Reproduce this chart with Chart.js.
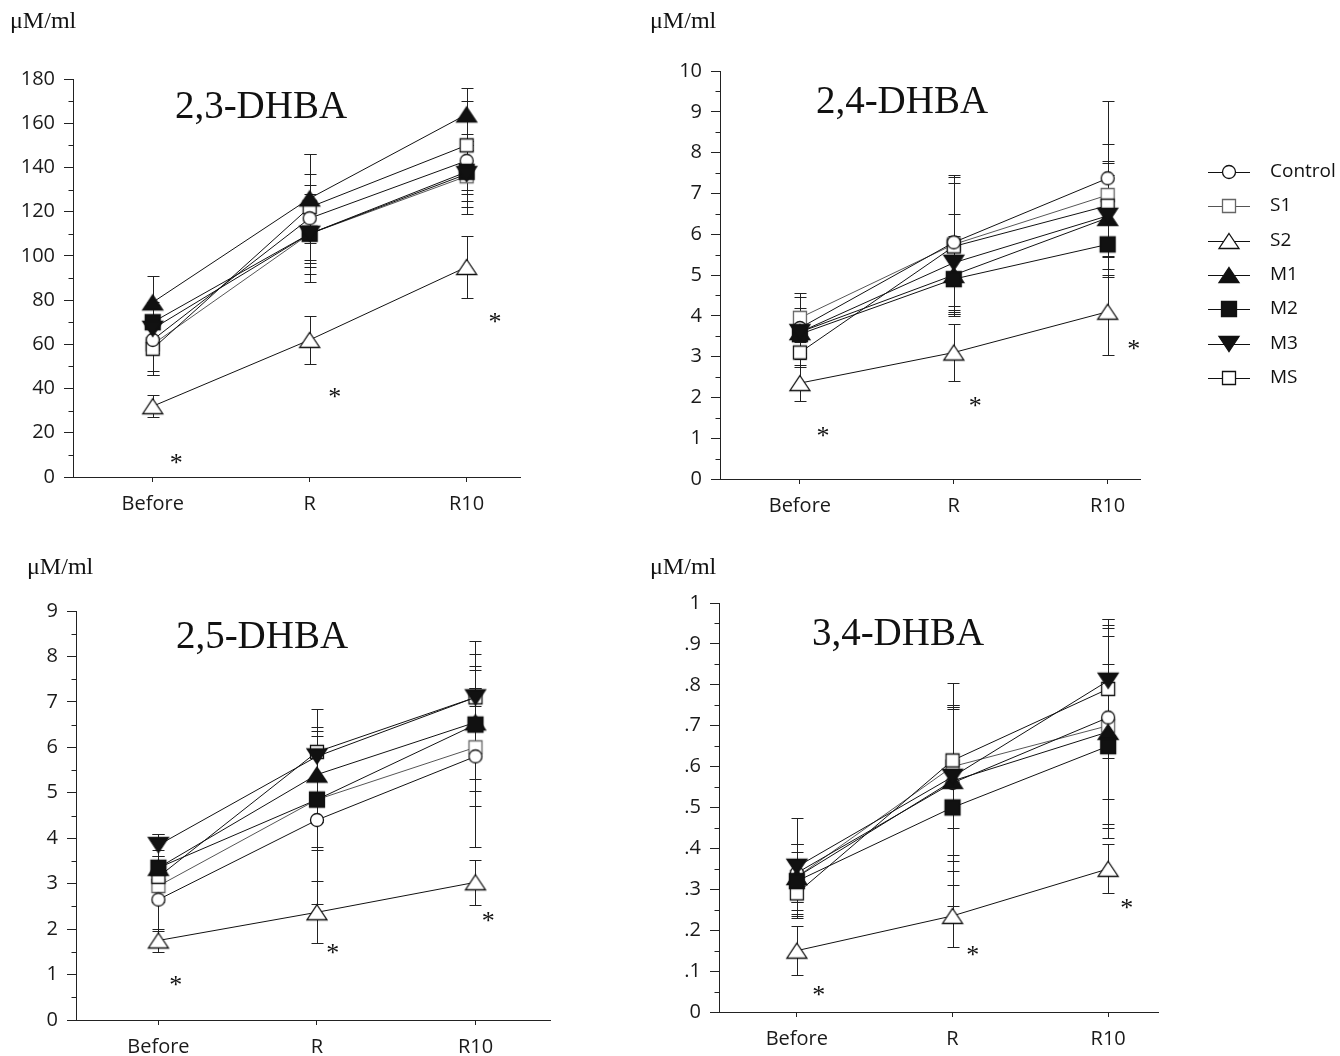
<!DOCTYPE html>
<html>
<head>
<meta charset="utf-8">
<script src="https://cdn.jsdelivr.net/npm/chart.js@4.4.1/dist/chart.umd.min.js"></script>
<style>
  body { margin: 0; background: #fff; }
  #wrap { position: relative; width: 1340px; height: 1056px; overflow: hidden; background: #fff; }
  canvas { position: absolute; }
</style>
</head>
<body>
<div id="wrap"></div>
<script>
const categories = ['Before', 'R', 'R10'];
const seriesNames = ['Control', 'S1', 'S2', 'M1', 'M2', 'M3', 'MS'];

// 2,3-DHBA  (rows follow seriesNames)
const means23 = [[62, 117, 143], [60, 110, 136], [32, 62, 95], [79, 126, 164], [70, 110, 138], [67, 110, 137], [58, 122, 150]];
const sd23 = [[16, 20, 18], [12, 18, 14], [5, 11, 14], [12, 20, 12], [9, 15, 10], [11, 22, 18], [12, 24, 20]];
const starX23 = [0.15, 1.16, 2.18];
const starY23 = [9, 39, 73];

// 2,4-DHBA
const means24 = [[3.7, 5.8, 7.37], [3.95, 5.75, 6.96], [2.35, 3.1, 4.1], [3.6, 5.0, 6.4], [3.55, 4.9, 5.75], [3.6, 5.3, 6.45], [3.1, 5.7, 6.7]];
const sd24 = [[0.75, 1.65, 1.9], [0.6, 1.5, 1.25], [0.45, 0.7, 1.05], [0.5, 0.95, 1.4], [0.55, 0.85, 0.8], [0.6, 1.2, 1.0], [0.35, 1.7, 1.05]];
const starX24 = [0.15, 1.14, 2.17];
const starY24 = [1.2, 1.94, 3.33];

// 2,5-DHBA
const means25 = [[2.65, 4.4, 5.8], [2.95, 4.85, 6.0], [1.75, 2.37, 3.03], [3.35, 5.4, 6.55], [3.35, 4.85, 6.5], [3.85, 5.8, 7.1], [3.15, 5.9, 7.1]];
const sd25 = [[0.7, 1.85, 2.0], [0.3, 1.1, 1.3], [0.25, 0.68, 0.5], [0.75, 1.05, 1.5], [0.4, 1.05, 1.2], [0.25, 0.55, 1.25], [0.45, 0.95, 0.2]];
const starX25 = [0.11, 1.10, 2.08];
const starY25 = [0.9, 1.6, 2.3];

// 3,4-DHBA
const means34 = [[0.34, 0.56, 0.72], [0.33, 0.60, 0.70], [0.15, 0.235, 0.35], [0.33, 0.565, 0.685], [0.32, 0.50, 0.65], [0.355, 0.575, 0.81], [0.29, 0.615, 0.79]];
const sd34 = [[0.07, 0.19, 0.2], [0.06, 0.15, 0.24], [0.06, 0.075, 0.06], [0.08, 0.18, 0.26], [0.09, 0.24, 0.2], [0.12, 0.23, 0.15], [0.05, 0.13, 0.17]];
const starX34 = [0.14, 1.13, 2.12];
const starY34 = [0.057, 0.155, 0.27];
const ticks34 = ['0', '.1', '.2', '.3', '.4', '.5', '.6', '.7', '.8', '.9', '1'];

const unitLabel = 'μM/ml';

// marker look for each series
const markerDefs = [
  { shape: 'circle', fill: '#fff', stroke: '#111' },
  { shape: 'square', fill: '#fff', stroke: '#666' },
  { shape: 'up', fill: '#fff', stroke: '#111' },
  { shape: 'up', fill: '#111', stroke: '#111' },
  { shape: 'bigsquare', fill: '#111', stroke: '#111' },
  { shape: 'down', fill: '#111', stroke: '#111' },
  { shape: 'square', fill: '#fff', stroke: '#111' }
];
const lineColors = ['#111', '#555', '#111', '#111', '#111', '#111', '#111'];
// lower number = drawn on top (filled markers sit above the open ones)
const drawOrder = [4, 6, 3, 2, 1, 0, 5];

function makeMarker(def) {
  const c = document.createElement('canvas');
  c.width = 24; c.height = 22;
  const g = c.getContext('2d');
  g.fillStyle = def.fill; g.strokeStyle = def.stroke; g.lineWidth = 1.3;
  g.beginPath();
  if (def.shape === 'circle') g.arc(12, 11, 6.5, 0, Math.PI * 2);
  else if (def.shape === 'square') g.rect(5.5, 4.5, 13, 13);
  else if (def.shape === 'bigsquare') g.rect(4.5, 3.5, 15, 15);
  else if (def.shape === 'up') { g.moveTo(12, 3.5); g.lineTo(22, 18.5); g.lineTo(2, 18.5); g.closePath(); }
  else if (def.shape === 'down') { g.moveTo(2, 3.5); g.lineTo(22, 3.5); g.lineTo(12, 18.5); g.closePath(); }
  g.fill(); g.stroke();
  return c;
}
const markers = markerDefs.map(makeMarker);

const sansFont = '"Open Sans", "DejaVu Sans", sans-serif';
const serifFont = '"Liberation Serif", "DejaVu Serif", serif';

const panels = [
  { key: '23', title: '2,3-DHBA', means: means23, sd: sd23, starX: starX23, starY: starY23,
    yMax: 180, yStep: 20, yMinor: 10, yLabel: v => String(v),
    left: 0, top: 0, w: 530, h: 537, padTop: 79, padRight: 10, yW: 73, xH: 60,
    xMin: -0.508, xMax: 2.34, titlePos: [261, 118], unitPos: [10, 22] },
  { key: '24', title: '2,4-DHBA', means: means24, sd: sd24, starX: starX24, starY: starY24,
    yMax: 10, yStep: 1, yMinor: 0.5, yLabel: v => String(v),
    left: 640, top: 0, w: 700, h: 540, padTop: 71, padRight: 200, yW: 80, xH: 61,
    xMin: -0.519, xMax: 2.21, titlePos: [902, 113], unitPos: [650, 22], legend: true },
  { key: '25', title: '2,5-DHBA', means: means25, sd: sd25, starX: starX25, starY: starY25,
    yMax: 9, yStep: 1, yMinor: 0.5, yLabel: v => String(v),
    left: 0, top: 545, w: 560, h: 511, padTop: 66, padRight: 10, yW: 76, xH: 36,
    xMin: -0.52, xMax: 2.47, titlePos: [262, 648], unitPos: [27, 568] },
  { key: '34', title: '3,4-DHBA', means: means34, sd: sd34, starX: starX34, starY: starY34,
    yMax: 1, yStep: 0.1, yMinor: 0.05, yLabel: v => ticks34[Math.round(v * 10)],
    left: 639, top: 545, w: 529, h: 511, padTop: 58, padRight: 10, yW: 80, xH: 44,
    xMin: -0.5, xMax: 2.32, titlePos: [898, 645], unitPos: [650, 568] }
];

function buildPanel(p) {
  const cv = document.createElement('canvas');
  cv.width = p.w; cv.height = p.h;
  cv.style.left = p.left + 'px';
  cv.style.top = p.top + 'px';
  document.getElementById('wrap').appendChild(cv);

  const datasets = seriesNames.map((name, k) => ({
    label: name,
    data: categories.map((c, i) => ({ x: i, y: p.means[k][i] })),
    order: drawOrder[k],
    borderColor: lineColors[k],
    borderWidth: 1,
    backgroundColor: markerDefs[k].fill,
    pointStyle: markers[k],
    pointRadius: 9,
    fill: false,
    tension: 0
  }));

  const deco = {
    id: 'deco' + p.key,
    beforeDatasetsDraw(chart) {
      const ctx = chart.ctx, xs = chart.scales.x, ys = chart.scales.y;
      ctx.save();
      ctx.strokeStyle = '#222';
      ctx.lineWidth = 1;
      chart.data.datasets.forEach((ds, k) => {
        ds.data.forEach((pt, i) => {
          const px = Math.round(xs.getPixelForValue(pt.x)) + 0.5;
          const top = Math.round(ys.getPixelForValue(pt.y + p.sd[k][i])) + 0.5;
          const bot = Math.round(ys.getPixelForValue(Math.max(0, pt.y - p.sd[k][i]))) + 0.5;
          ctx.beginPath();
          ctx.moveTo(px, top); ctx.lineTo(px, bot);
          ctx.moveTo(px - 6, top); ctx.lineTo(px + 6, top);
          ctx.moveTo(px - 6, bot); ctx.lineTo(px + 6, bot);
          ctx.stroke();
        });
      });
      ctx.restore();
    },
    afterDraw(chart) {
      const ctx = chart.ctx, xs = chart.scales.x, ys = chart.scales.y;
      ctx.save();
      // minor ticks on the value axis
      ctx.strokeStyle = '#222';
      ctx.lineWidth = 1;
      const ax = Math.round(chart.chartArea.left) + 0.5;
      for (let v = p.yMinor; v < p.yMax; v += p.yStep) {
        const py = Math.round(ys.getPixelForValue(v)) + 0.5;
        ctx.beginPath(); ctx.moveTo(ax - 5, py); ctx.lineTo(ax, py); ctx.stroke();
      }
      // x axis runs a little past the value axis, as in the print
      const by = Math.round(chart.chartArea.bottom) + 0.5;
      ctx.beginPath(); ctx.moveTo(ax - 9, by); ctx.lineTo(ax, by); ctx.stroke();
      // title and unit
      ctx.fillStyle = '#111';
      ctx.font = '39px ' + serifFont;
      ctx.textAlign = 'center';
      ctx.textBaseline = 'alphabetic';
      ctx.fillText(p.title, p.titlePos[0] - p.left, p.titlePos[1] - p.top);
      ctx.font = '24px ' + serifFont;
      ctx.textAlign = 'left';
      ctx.textBaseline = 'middle';
      ctx.fillText(unitLabel, p.unitPos[0] - p.left, p.unitPos[1] - p.top);
      // significance stars
      ctx.font = '26px ' + serifFont;
      ctx.textAlign = 'center';
      ctx.textBaseline = 'alphabetic';
      p.starX.forEach((sx, i) => {
        ctx.fillText('*', xs.getPixelForValue(sx), ys.getPixelForValue(p.starY[i]) + 14);
      });
      // shared legend
      if (p.legend) {
        ctx.font = '19px ' + sansFont;
        ctx.textBaseline = 'middle';
        ctx.textAlign = 'left';
        seriesNames.forEach((name, k) => {
          const ry = Math.round(172 + k * 34.3 - p.top);
          const lx = 1208 - p.left;
          ctx.strokeStyle = lineColors[k];
          ctx.beginPath(); ctx.moveTo(lx, ry + 0.5); ctx.lineTo(lx + 42, ry + 0.5); ctx.stroke();
          ctx.drawImage(markers[k], lx + 21 - 12, ry - 11);
          ctx.fillStyle = '#111';
          ctx.fillText(name, 1270 - p.left, ry);
        });
      }
      ctx.restore();
    }
  };

  new Chart(cv, {
    type: 'line',
    data: { datasets },
    options: {
      responsive: false,
      animation: false,
      devicePixelRatio: 1,
      events: [],
      layout: { padding: { top: p.padTop, right: p.padRight, left: 0, bottom: 0 } },
      plugins: { legend: { display: false }, tooltip: { enabled: false } },
      scales: {
        x: {
          type: 'linear',
          min: p.xMin,
          max: p.xMax,
          afterBuildTicks: s => { s.ticks = categories.map((c, i) => ({ value: i })); },
          afterFit: s => { s.height = p.xH; },
          ticks: {
            callback: v => categories[v],
            font: { family: sansFont, size: 20 },
            color: '#1a1a1a',
            padding: 10,
            maxRotation: 0,
            autoSkip: false
          },
          grid: { drawOnChartArea: false, drawTicks: true, tickLength: 5, color: '#222' },
          border: { display: true, color: '#222', width: 1 }
        },
        y: {
          type: 'linear',
          min: 0,
          max: p.yMax,
          afterFit: s => { s.width = p.yW; },
          ticks: {
            stepSize: p.yStep,
            callback: p.yLabel,
            font: { family: sansFont, size: 20 },
            color: '#1a1a1a',
            padding: 9
          },
          grid: { drawOnChartArea: false, drawTicks: true, tickLength: 9, color: '#222' },
          border: { display: true, color: '#222', width: 1 }
        }
      }
    },
    plugins: [deco]
  });
}

panels.forEach(buildPanel);
</script>
</body>
</html>
